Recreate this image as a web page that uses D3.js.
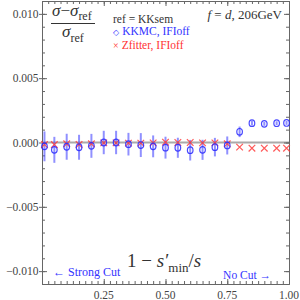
<!DOCTYPE html>
<html><head><meta charset="utf-8">
<script src="https://cdn.jsdelivr.net/npm/d3@7"></script>
<style>body{margin:0;background:#fff}svg{display:block}</style>
</head><body>
<svg id="c" width="300" height="300" font-family="'Liberation Serif','DejaVu Serif',serif"></svg>
<script>
const xs = [0.01,0.05,0.10,0.15,0.20,0.25,0.30,0.35,0.40,0.45,0.50,0.55,0.60,0.65,0.70,0.75,0.80,0.85,0.90,0.95,0.99];
const kkmc = [-0.00030,-0.00057,-0.00033,-0.00037,-0.00026,0.0,0.0,-0.00013,-0.0002,-0.0003,-0.0004,-0.00041,-0.0006,-0.00057,-0.00036,-0.00023,0.00083,0.0015,0.00145,0.0015,0.00152];
const kkmcErr = [0.00116,0.00101,0.00101,0.00097,0.00093,0.00091,0.00091,0.00088,0.00093,0.00085,0.00085,0.00078,0.0008,0.00078,0.00072,0.0007,0.00041,0.00019,0.00015,0.00015,0.00015];
const zfitter = [-0.00016,-0.00016,-0.0001,-0.00015,-0.0001,-0.00003,-0.00003,-0.00005,-0.00005,-0.00003,0.00002,0.0,0.0,-0.00003,-0.00003,-0.0001,-0.00036,-0.00044,-0.00044,-0.00044,-0.00044];
const xTicks = [0.25,0.50,0.75,1.00];
const xTickLabels = ["0.25","0.50","0.75","1.00"];
const yTicks = [0.010,0.005,0.000,-0.005,-0.010];
const yTickLabels = ["0.010","0.005","0.000","\u22120.005","\u22120.010"];

const svg = d3.select("#c");
const L=42, R=289, T=1, B=284;
const x = d3.scaleLinear().domain([0,1]).range([L,R]);
const y = d3.scaleLinear().domain([-0.011,0.011]).range([B,T]);
const axCol="#666";

svg.append("line").attr("x1",L).attr("x2",R).attr("y1",y(0)).attr("y2",y(0))
  .attr("stroke","#aaaaaa").attr("stroke-width",2);

const xMinor = d3.range(0,1.0001,0.025);
const yMinor = d3.range(-0.011,0.01101,0.001);
function styleAx(g){g.select(".domain").attr("stroke",axCol);g.selectAll(".tick line").attr("stroke",axCol);g.selectAll("text").remove();}
svg.append("g").attr("transform",`translate(0,${B})`).call(d3.axisBottom(x).tickValues(xMinor).tickSize(-3).tickSizeOuter(0)).call(styleAx);
svg.append("g").attr("transform",`translate(0,${B})`).call(d3.axisBottom(x).tickValues(xTicks).tickSize(-5).tickSizeOuter(0)).call(styleAx);
svg.append("g").attr("transform",`translate(0,${T})`).call(d3.axisTop(x).tickValues(xMinor).tickSize(-3).tickSizeOuter(0)).call(styleAx);
svg.append("g").attr("transform",`translate(0,${T})`).call(d3.axisTop(x).tickValues(xTicks).tickSize(-5).tickSizeOuter(0)).call(styleAx);
svg.append("g").attr("transform",`translate(${L},0)`).call(d3.axisLeft(y).tickValues(yMinor).tickSize(-3).tickSizeOuter(0)).call(styleAx);
svg.append("g").attr("transform",`translate(${L},0)`).call(d3.axisLeft(y).tickValues(yTicks).tickSize(3).tickSizeOuter(0)).call(styleAx);
svg.append("g").attr("transform",`translate(${L},0)`).call(d3.axisLeft(y).tickValues(yTicks).tickSize(-5).tickSizeOuter(0)).call(styleAx);
svg.append("g").attr("transform",`translate(${R},0)`).call(d3.axisRight(y).tickValues(yMinor).tickSize(-3).tickSizeOuter(0)).call(styleAx);
svg.append("g").attr("transform",`translate(${R},0)`).call(d3.axisRight(y).tickValues(yTicks).tickSize(-5).tickSizeOuter(0)).call(styleAx);

svg.selectAll(".xl").data(xTicks).join("text").attr("x",d=>x(d)).attr("y",299)
  .attr("text-anchor","middle").attr("font-size",11.5).attr("fill","#444").text((d,i)=>xTickLabels[i]);
svg.selectAll(".yl").data(yTicks).join("text").attr("x",38.5).attr("y",d=>y(d)+4)
  .attr("text-anchor","end").attr("font-size",11.5).attr("fill","#444").text((d,i)=>yTickLabels[i]);

svg.selectAll(".eb").data(xs).join("line")
  .attr("x1",d=>x(d)).attr("x2",d=>x(d))
  .attr("y1",(d,i)=>y(kkmc[i]-kkmcErr[i])).attr("y2",(d,i)=>y(kkmc[i]+kkmcErr[i]))
  .attr("stroke","rgba(70,70,255,0.6)").attr("stroke-width",2);
const cs=3.3;
const cr = svg.selectAll(".cr").data(xs).join("g")
  .attr("transform",(d,i)=>`translate(${x(d)},${y(zfitter[i])})`);
cr.append("path").attr("d",`M${-cs},${-cs}L${cs},${cs}M${-cs},${cs}L${cs},${-cs}`)
  .attr("stroke","rgba(255,60,60,0.85)").attr("stroke-width",1.2).attr("fill","none");
svg.selectAll(".mk").data(xs).join("ellipse")
  .attr("cx",d=>x(d)).attr("cy",(d,i)=>y(kkmc[i])).attr("rx",2.8).attr("ry",3.3)
  .attr("fill","none").attr("stroke","rgba(40,40,255,0.85)").attr("stroke-width",1.2);

const fr = svg.append("g").attr("fill","#333");
const num = fr.append("text").attr("x",52).attr("y",16).attr("font-size",17).attr("font-style","italic");
num.append("tspan").text("σ");
num.append("tspan").attr("font-style","normal").text("−");
num.append("tspan").text("σ");
num.append("tspan").attr("font-style","normal").attr("font-size",12).attr("dy",4).text("ref");
fr.append("line").attr("x1",51).attr("x2",95).attr("y1",23.5).attr("y2",23.5).attr("stroke","#333").attr("stroke-width",1);
const den = fr.append("text").attr("x",62).attr("y",37).attr("font-size",17).attr("font-style","italic");
den.append("tspan").text("σ");
den.append("tspan").attr("font-style","normal").attr("font-size",12).attr("dy",5).text("ref");

svg.append("text").attr("x",113).attr("y",23).attr("font-size",11.5).attr("fill","#333").text("ref = KKsem");
const l1 = svg.append("text").attr("x",113).attr("y",35).attr("font-size",11.5).attr("fill","#3333ff");
l1.append("tspan").attr("font-size",8).attr("font-family","'DejaVu Sans',sans-serif").text("◇");
l1.append("tspan").attr("dx",3).text("KKMC, IFIoff");
const l2 = svg.append("text").attr("x",113).attr("y",49).attr("font-size",11.5).attr("fill","#ff3333");
l2.append("tspan").attr("font-size",10).text("×");
l2.append("tspan").attr("dx",3).text("Zfitter, IFIoff");

const pl = svg.append("text").attr("x",282).attr("y",18.5).attr("text-anchor","end").attr("font-size",13).attr("fill","#333");
pl.append("tspan").attr("font-style","italic").text("f");
pl.append("tspan").text(" = ");
pl.append("tspan").attr("font-style","italic").text("d");
pl.append("tspan").text(", 206GeV");

const xl = svg.append("text").attr("x",127).attr("y",267).attr("font-size",19).attr("fill","#333");
xl.append("tspan").text("1 − ");
xl.append("tspan").attr("font-style","italic").text("s′");
xl.append("tspan").attr("font-size",13).attr("dy",5).text("min");
xl.append("tspan").attr("dy",-5).text("/");
xl.append("tspan").attr("font-style","italic").text("s");

svg.append("text").attr("x",53).attr("y",276).attr("font-size",12).attr("fill","#3333ff").text("← Strong Cut");
svg.append("text").attr("x",271).attr("y",279).attr("text-anchor","end").attr("font-size",11.5).attr("fill","#3333ff").text("No Cut →");
</script>
</body></html>
